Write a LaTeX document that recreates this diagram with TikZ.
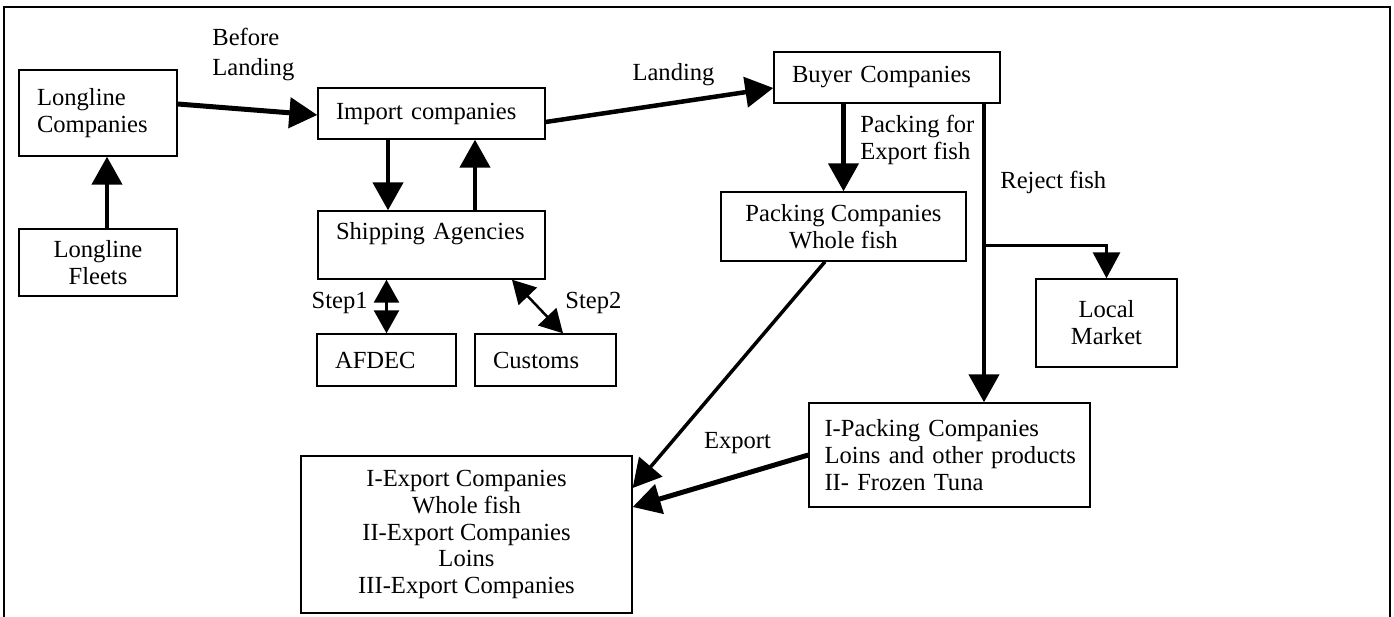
\documentclass[tikz,border=0pt]{standalone}
\usepackage{fontspec}
\setmainfont{Liberation Serif}
\usetikzlibrary{arrows.meta}

\newcommand{\dgfont}{\fontsize{14}{15.3}\selectfont}

\tikzset{
  box/.style={draw, line width=0.8pt, inner ysep=0pt, font=\dgfont},
  lbox/.style={box, align=left, inner xsep=0.36cm, text width=#1},
  cbox/.style={box, align=center, inner xsep=0pt, minimum width=#1},
  lbl/.style={inner sep=0pt, font=\dgfont},
  arr/.style={-{Triangle[length=0.56cm,width=0.6cm]}, line width=0.09cm},
  brarr/.style={-{Triangle[length=0.52cm,width=0.54cm]}, line width=0.06cm},
  steparr/.style={{Triangle[length=0.46cm,width=0.5cm]}-{Triangle[length=0.46cm,width=0.5cm]}, line width=0.05cm}
}

\begin{document}
\begin{tikzpicture}[x=0.02cm,y=-0.02cm]
\useasboundingbox (0,0) rectangle (1394,617);
\draw[line width=0.05cm] (4,617) -- (4,7) -- (1390,7) -- (1390,617);

\node[lbox=2.44cm, minimum height=1.72cm] (lcomp) at (98,113) {Longline\\Companies};
\node[cbox=3.16cm, minimum height=1.34cm] (lfleet) at (98,262.5) {Longline\\Fleets};
\node[lbox=3.82cm, minimum height=1.02cm] (imp) at (431.5,113.5) {Import companies};
\node[lbox=3.82cm, minimum height=1.36cm, text depth=0.58cm] (ship) at (431.5,245) {Shipping Agencies};
\node[lbox=2.06cm, minimum height=1.04cm] (afdec) at (386.5,360) {AFDEC};
\node[lbox=2.10cm, minimum height=1.04cm] (cust) at (545.5,360) {Customs};
\node[lbox=3.80cm, minimum height=1.02cm] (buyer) at (887,77.5) {Buyer Companies};
\node[cbox=4.9cm, minimum height=1.38cm] (pack) at (843.5,226.5) {Packing Companies\\Whole fish};
\node[cbox=2.82cm, minimum height=1.76cm] (local) at (1106.5,323) {Local\\Market};
\node[lbox=5.0cm, inner xsep=0.31cm, minimum height=2.08cm] (ipack) at (949.5,455) {I-Packing Companies\\\mbox{Loins and other products}\\II- Frozen Tuna};
\node[cbox=6.62cm, minimum height=3.14cm] (iexp) at (466.5,534.5) {I-Export Companies\\Whole fish\\II-Export Companies\\Loins\\III-Export Companies};

\node[lbl, align=left, anchor=west] (before) at (212,54.5) {Before\\[2.3pt]Landing};
\node[lbl] (landing) at (673.5,75) {Landing};
\node[lbl, align=left, anchor=west] (packfor) at (860,140) {Packing for\\Export fish};
\node[lbl, anchor=west] (reject) at (1000,182) {Reject fish};
\node[lbl, anchor=east] (step1) at (368,303) {Step1};
\node[lbl, anchor=west] (step2) at (565,303) {Step2};
\node[lbl] (export) at (737.5,443) {Export};

\draw[arr] ([xshift=0.18cm]lfleet.north) -- ([xshift=0.18cm]lcomp.south);
\draw[arr, line width=0.1cm] ([yshift=0.18cm]lcomp.east) -- ([yshift=-0.03cm]imp.west);
\draw[arr] ([xshift=-0.87cm]imp.south) -- ([xshift=-0.87cm]ship.north);
\draw[arr] ([xshift=0.87cm]ship.north) -- ([xshift=0.87cm]imp.south);
\draw[arr] ([yshift=-0.17cm]imp.east) -- ([yshift=-0.21cm]buyer.west);
\draw[arr] (buyer.south -| pack.north) -- (pack.north);
\draw[arr] ([xshift=0.69cm]ipack.north |- buyer.south) -- ([xshift=0.69cm]ipack.north);
\coordinate (rj) at (984,246);
\draw[brarr] (rj) -| (local.north);
\draw[steparr] (ship.south -| afdec.north) -- (afdec.north);
\draw[steparr] ([xshift=1.61cm]ship.south) -- ([xshift=0.35cm]cust.north);
\draw[arr, line width=0.07cm] ([xshift=-0.37cm]pack.south) -- ([yshift=0.93cm]iexp.east);
\draw[arr, line width=0.1cm] (ipack.west) -- ([yshift=0.55cm]iexp.east);
\end{tikzpicture}
\end{document}
